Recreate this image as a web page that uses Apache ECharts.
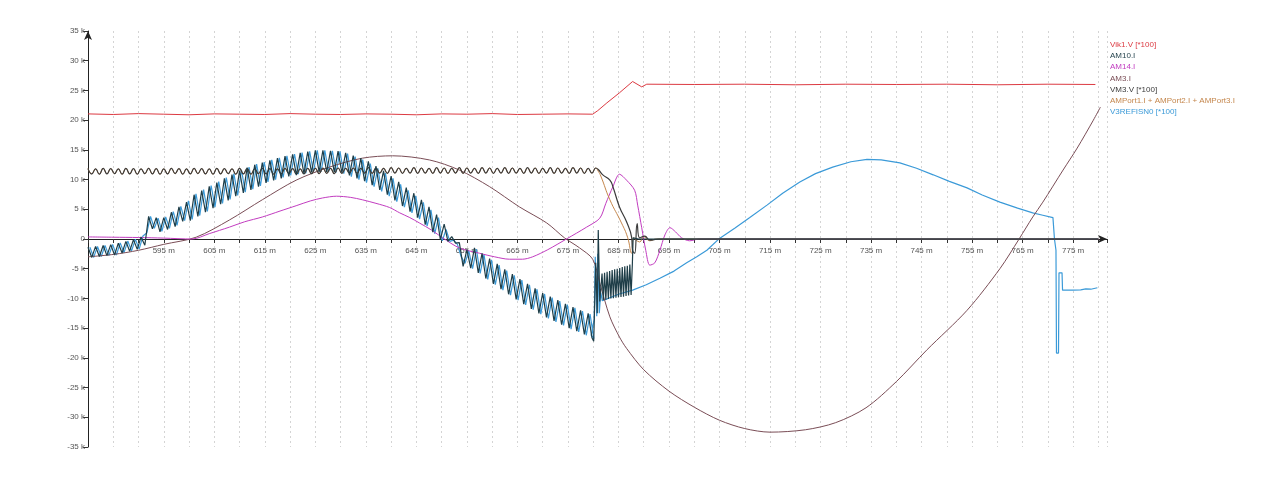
<!DOCTYPE html>
<html>
<head>
<meta charset="utf-8">
<script src="https://cdn.jsdelivr.net/npm/echarts@6/dist/echarts.min.js"></script>
<style>
html,body{margin:0;padding:0;background:#ffffff;}
#chart{width:1279px;height:479px;}
</style>
</head>
<body>
<div id="chart"></div>
<script>
// Time axis in m, all signal values in thousands (k).

const seriesNames = [
  'Vik1.V [*100]',
  'AM10.I',
  'AM14.I',
  'AM3.I',
  'VM3.V [*100]',
  'AMPort1.I + AMPort2.I + AMPort3.I',
  'V3REFISN0 [*100]'
];

const xLabelValues = [595, 605, 615, 625, 635, 645, 655, 665, 675, 685, 695, 705, 715, 725, 735, 745, 755, 765, 775];

// Vik1.V [*100]: [t, value]
const vik1V = [
  [580, 21.05], [585, 20.95], [590, 21.1], [595, 21.0], [600, 20.9], [605, 21.05], [610, 21.0],
  [615, 20.95], [620, 21.1], [625, 21.0], [630, 20.95], [635, 21.05], [640, 21.0], [645, 20.9],
  [650, 21.05], [655, 21.0], [660, 21.1], [665, 20.95], [670, 21.0], [675, 21.05], [679.9, 21.0],
  [680.9, 21.6], [682.7, 22.9], [685.2, 24.6], [687.8, 26.5], [689.6, 25.6], [690.6, 26.05],
  [700, 26.0], [710, 26.05], [720, 25.95], [730, 26.05], [740, 26.0], [750, 26.05], [760, 25.95],
  [770, 26.05], [779.4, 26.0]
];

// AM10.I: switching ripple sampled every 0.75 m from 580, then the transient
const am10Start = 580;
const am10Step = 0.75;
const am10Wave = [
  -1.4, -3.1, -1.25, -2.95, -1.1, -2.8, -0.95, -2.7, -0.7, -2.35,
  -0.4, -2.05, -0.1, -1.75, 0.35, -1.05, 3.8, 1.7, 3.6, 1.2,
  3.6, 1.6, 4.5, 2.1, 5.4, 2.95, 6.2, 3.1, 7.45, 3.8,
  8.15, 4.5, 8.85, 5.2, 9.5, 5.85, 10.2, 6.5, 10.85, 7.2,
  11.5, 7.75, 12.0, 8.25, 12.5, 8.8, 12.85, 9.45, 13.25, 9.85,
  13.6, 10.2, 13.95, 10.55, 14.25, 10.75, 14.5, 11.0, 14.7, 11.2,
  14.9, 11.3, 14.9, 11.3, 14.85, 11.25, 14.8, 11.15, 14.5, 10.7,
  14.05, 10.2, 13.6, 9.75, 13.05, 9.05, 12.25, 8.25, 11.45, 7.45,
  10.6, 6.5, 9.6, 5.55, 8.65, 4.6, 7.7, 3.6, 6.6, 2.4,
  5.4, 1.15, 4.1, -0.1, 2.5, -0.4, 0.4, -0.7, -0.6, -4.6,
  -1.8, -4.9, -1.5, -5.7, -2.4, -6.65, -3.3, -7.55, -4.2, -8.45,
  -5.1, -9.3, -5.9, -10.15, -6.75, -10.95, -7.55, -11.75, -8.3, -12.5,
  -9.1, -13.2, -9.7, -13.8, -10.3, -14.4, -10.9, -15.0, -11.45, -15.5,
  -12.0, -16.05, -12.5, -16.6
];
const am10Tail = [
  [680.1, -17.2], [680.5, -4.0], [680.8, -12.5], [681.0, 1.5], [681.3, -10.5],
  [681.75, -5.8], [682.0, -10.3], [682.25, -5.7], [682.5, -10.2], [682.75, -5.5], [683.0, -10.1],
  [683.25, -5.4], [683.5, -10.0], [683.75, -5.2], [684.0, -9.95], [684.25, -5.1], [684.5, -9.9],
  [684.75, -5.0], [685.0, -9.8], [685.25, -4.9], [685.5, -9.75], [685.75, -4.7], [686.0, -9.7],
  [686.25, -4.6], [686.5, -9.6], [686.75, -4.5], [687.0, -9.5], [687.25, -4.3], [687.5, -9.4],
  [687.75, -4.2], [687.9, 0.2], [689, 0.0], [700, 0.0], [780, 0.0]
];

// AM14.I
const am14I = [
  [580, 0.35], [585, 0.3], [590, 0.25], [595, 0.15], [600.6, 0.0], [604, 0.9], [608, 2.0],
  [611, 2.9], [614.5, 3.7], [618, 4.7], [621.2, 5.6], [624, 6.4], [626.4, 6.9], [629.2, 7.2],
  [632, 7.0], [634.3, 6.6], [637, 6.0], [639.7, 5.3], [641.7, 4.4], [643.7, 3.6], [645.6, 2.7],
  [648, 1.5], [650.2, 0.2], [653.5, -1.5], [657.5, -2.4], [660.5, -3.0], [663.4, -3.4],
  [666, -3.4], [668, -3.0], [671, -1.8], [674.7, 0.0], [678.7, 2.0], [681.3, 3.5], [682.5, 6.0],
  [683.9, 8.8], [685.2, 10.9], [686.6, 9.9], [688.2, 8.2], [688.8, 5.7], [689.6, 1.9],
  [690.4, -1.9], [691.2, -4.4], [692.2, -4.0], [693.2, -1.9], [694.2, 0.7], [695.2, 1.9],
  [696.3, 1.2], [697.5, 0.2], [699.1, -0.3], [701, 0.0], [780, 0.0]
];

// AM3.I
const am3I = [
  [580, -3.0], [585, -2.6], [590, -1.9], [595, -0.9], [601.4, 0.3], [608, 3.2], [614.5, 6.6],
  [621.2, 9.9], [627.8, 12.1], [634.3, 13.6], [640.3, 14.0], [647.6, 13.3], [653.5, 11.6],
  [659.5, 8.8], [665.4, 5.4], [670.8, 2.7], [674.3, 0.2], [677.3, -1.5], [679.9, -3.4],
  [681.3, -7.4], [683.3, -13.1], [685.2, -16.5], [686.6, -18.4], [690, -22.0], [695, -25.6],
  [700, -28.3], [705, -30.5], [710, -31.9], [715, -32.5], [722, -32.1], [728, -30.9],
  [734, -28.4], [740, -24.0], [746, -18.7], [754, -12.0], [760.5, -5.0], [764.3, 0.0],
  [767, 3.7], [769, 6.2], [773, 11.6], [775.8, 15.3], [779, 20.0], [780.4, 22.2]
];

// VM3.V [*100]: ripple sampled every 0.75 m from 580, then the collapse
const vm3Start = 580;
const vm3Step = 0.75;
const vm3Wave = [
  11.85, 10.95, 11.8, 10.9, 11.9, 10.95, 11.85, 11.0, 11.8, 10.9,
  11.9, 10.95, 11.85, 10.9, 11.8, 11.0, 11.9, 10.95, 11.85, 10.9,
  11.8, 10.95, 11.9, 11.0, 11.85, 10.9, 11.8, 10.95, 11.9, 11.0,
  11.85, 10.95, 11.8, 10.9, 11.9, 10.95, 11.85, 11.0, 11.8, 10.9,
  11.9, 10.95, 11.85, 10.9, 11.8, 11.0, 11.9, 10.95, 11.85, 10.9,
  11.8, 10.95, 11.9, 11.0, 11.85, 10.9, 11.8, 10.95, 11.9, 11.0,
  11.9, 11.0, 11.95, 11.05, 11.9, 11.0, 11.95, 11.05, 11.9, 11.1,
  11.95, 11.05, 11.9, 11.1, 12.0, 11.05, 11.95, 11.1, 11.9, 11.05,
  12.0, 11.1, 11.95, 11.05, 11.9, 11.1, 12.0, 11.05, 11.95, 11.1,
  11.9, 11.05, 12.0, 11.1, 11.95, 11.05, 11.9, 11.1, 12.0, 11.05,
  11.95, 11.1, 11.9, 11.05, 12.0, 11.1, 11.95, 11.05, 11.9, 11.1,
  12.0, 11.05, 11.95, 11.1, 11.9, 11.05, 12.0, 11.1, 11.95, 11.05,
  11.9, 11.1, 12.0, 11.05, 11.95, 11.1, 11.9, 11.05, 12.0, 11.1,
  11.95, 11.05, 11.9, 11.1, 11.95
];
const vm3Tail = [
  [681.0, 11.7], [681.9, 10.8], [683.3, 9.9], [683.9, 8.8], [685.2, 5.4], [686.6, 2.9],
  [687.6, 0.3], [687.8, -1.9], [688.2, -2.4], [688.7, 2.6], [689.2, 0.2], [690.2, 0.5],
  [691.2, -0.2], [693, 0.0], [780, 0.0]
];

// AMPort1.I + AMPort2.I + AMPort3.I: follows VM3.V ripple until the collapse
const amPortTail = [
  [681.0, 11.4], [681.5, 10.6], [683.3, 6.6], [685.6, 2.7], [686.8, 0.3], [687.6, -2.4],
  [688.0, 0.2], [689.2, -0.5], [690.0, 0.4], [691.2, -0.3], [692.5, 0.0], [780, 0.0]
];

// V3REFISN0 [*100]: ripple sampled every 0.75 m from 580.375, then the smooth recovery
const v3Start = 580.375;
const v3Step = 0.75;
const v3Wave = [
  -1.4, -3.1, -1.25, -2.95, -1.1, -2.8, -0.9, -2.7, -0.65, -2.3,
  -0.35, -2.0, -0.05, -1.7, 0.5, 1.0, 3.8, 1.8, 3.5, 1.3,
  3.7, 1.8, 4.6, 2.3, 5.5, 3.1, 6.4, 3.3, 7.6, 3.95,
  8.3, 4.65, 9.0, 5.35, 9.65, 6.0, 10.35, 6.65, 11.0, 7.35,
  11.65, 7.9, 12.1, 8.4, 12.6, 8.95, 12.95, 9.6, 13.3, 10.0,
  13.65, 10.35, 14.0, 10.7, 14.3, 10.9, 14.55, 11.1, 14.75, 11.25,
  14.9, 11.3, 14.9, 11.3, 14.85, 11.2, 14.75, 11.0, 14.35, 10.5,
  13.85, 10.0, 13.35, 9.5, 12.7, 8.8, 11.9, 8.0, 11.1, 7.2,
  10.2, 6.3, 9.2, 5.35, 8.2, 4.4, 7.25, 3.35, 6.15, 2.15,
  4.9, 0.9, 3.6, -0.3, 1.6, -0.4, -0.2, -0.9, -3.0, -4.1,
  -2.0, -5.0, -1.7, -5.8, -2.6, -6.8, -3.5, -7.7, -4.4, -8.6,
  -5.3, -9.45, -6.1, -10.3, -6.9, -11.1, -7.7, -11.9, -8.45, -12.65,
  -9.25, -13.35, -9.85, -13.95, -10.45, -14.55, -11.05, -15.15, -11.6, -15.65,
  -12.15, -16.2, -12.65, -16.75
];
const v3Tail = [
  [679.6, -16.2], [680.2, -13.5], [680.4, -3.0], [680.7, -13.0], [680.9, -2.5], [681.2, -12.5],
  [681.5, -9.0], [681.8, -10.4], [683, -10.0], [685, -9.3], [687.8, -8.6], [690.5, -7.7],
  [693.2, -6.6], [696, -5.4], [698.5, -4.0], [700.5, -3.0], [702.5, -1.9], [705.0, 0.1],
  [708, 1.8], [711, 3.6], [714.4, 5.7], [717.5, 7.7], [720.9, 9.6], [724, 11.0], [727.4, 12.1],
  [731, 13.0], [734.2, 13.4], [737, 13.3], [740.7, 12.8], [744, 11.9], [747.3, 10.8],
  [750.5, 9.7], [754, 8.6], [757, 7.4], [760.5, 6.2], [764, 5.2], [767, 4.4], [769, 4.0],
  [771.0, 3.6], [771.3, 0.0], [771.6, -1.9], [771.7, -19.2], [772.1, -19.2], [772.2, -5.7],
  [772.8, -5.7], [772.9, -8.6], [775, -8.6], [776.5, -8.55], [777.5, -8.4], [778.5, -8.45],
  [779.8, -8.2]
];

function sampled(start, step, values) {
  return values.map((v, i) => [Math.round((start + i * step) * 1000) / 1000, v]);
}

const colors = {
  'Vik1.V [*100]': '#dc3a42',
  'AM10.I': '#1f3e48',
  'AM14.I': '#c23cc0',
  'AM3.I': '#7a4d56',
  'VM3.V [*100]': '#3b3b3b',
  'AMPort1.I + AMPort2.I + AMPort3.I': '#c4864c',
  'V3REFISN0 [*100]': '#3b9ad8'
};

function line(name, data, smooth, width) {
  return {
    name: name,
    type: 'line',
    data: data,
    showSymbol: false,
    symbol: 'none',
    smooth: smooth || false,
    animation: false,
    lineStyle: { color: colors[name], width: width || 1 },
    itemStyle: { color: colors[name] },
    emphasis: { disabled: true }
  };
}

const fontFamily = '"Liberation Sans", Arial, sans-serif';
const gridTop = 31;
const gridBottom = 32;
const plotHeight = 479 - gridTop - gridBottom;

const chart = echarts.init(document.getElementById('chart'), null, { renderer: 'canvas' });
chart.setOption({
  animation: false,
  backgroundColor: '#ffffff',
  grid: { left: 88, right: 172, top: gridTop, bottom: gridBottom },
  legend: {
    orient: 'vertical',
    left: 1100,
    top: 36,
    icon: 'none',
    itemWidth: 0,
    itemHeight: 8,
    itemGap: 3.1,
    selectedMode: false,
    textStyle: { fontSize: 8, fontFamily: fontFamily },
    data: seriesNames.map(n => ({ name: n, textStyle: { color: colors[n] } }))
  },
  xAxis: {
    type: 'value',
    min: 580,
    max: 781.7,
    interval: 5,
    // the time axis runs along the zero level of the value axis
    offset: -plotHeight / 2,
    axisLine: {
      show: true,
      onZero: false,
      symbol: ['none', 'arrow'],
      symbolSize: [6, 9],
      lineStyle: { color: '#222222', width: 1 }
    },
    axisTick: { show: true, length: 4, lineStyle: { color: '#333333' } },
    axisLabel: {
      fontSize: 8,
      fontFamily: fontFamily,
      color: '#555555',
      margin: 8,
      formatter: v => (xLabelValues.indexOf(Math.round(v * 100) / 100) >= 0 ? v + ' m' : '')
    },
    splitLine: { show: true, lineStyle: { color: '#d4d4d4', width: 1, type: [2, 3] } }
  },
  yAxis: {
    type: 'value',
    min: -35,
    max: 35,
    interval: 5,
    axisLine: {
      show: true,
      onZero: false,
      symbol: ['none', 'arrow'],
      symbolSize: [6, 9],
      lineStyle: { color: '#222222', width: 1 }
    },
    axisTick: { show: true, length: 5, lineStyle: { color: '#333333' } },
    axisLabel: {
      fontSize: 8,
      fontFamily: fontFamily,
      color: '#555555',
      margin: 3,
      formatter: v => (v === 0 ? '0' : v + ' k')
    },
    splitLine: { show: false }
  },
  series: [
    line('V3REFISN0 [*100]', sampled(v3Start, v3Step, v3Wave).concat(v3Tail), false, 1.2),
    line('AM3.I', am3I, 0.3),
    line('AM14.I', am14I, 0.3),
    line('AMPort1.I + AMPort2.I + AMPort3.I', sampled(vm3Start, vm3Step, vm3Wave).concat(amPortTail), 0.5),
    line('VM3.V [*100]', sampled(vm3Start, vm3Step, vm3Wave).concat(vm3Tail), 0.5, 1.2),
    line('AM10.I', sampled(am10Start, am10Step, am10Wave).concat(am10Tail), false, 1.2),
    line('Vik1.V [*100]', vik1V)
  ]
});
</script>
</body>
</html>
